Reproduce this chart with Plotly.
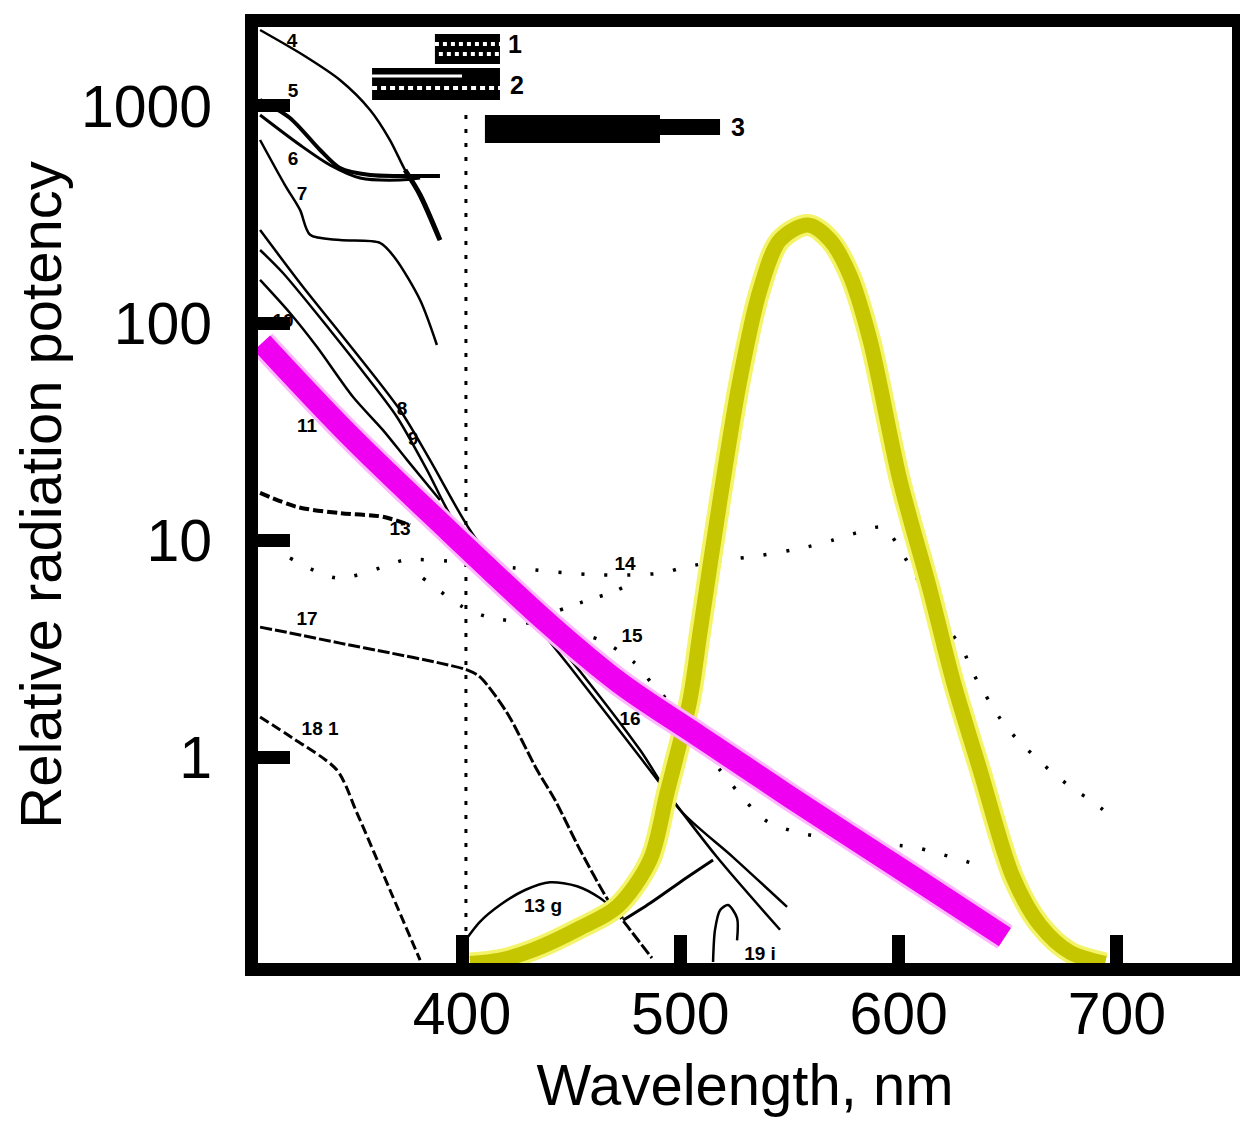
import plotly.graph_objects as go

# ---------------- axis ticks ----------------
x_tick_vals = [400, 500, 600, 700]
x_tick_text = ["400", "500", "600", "700"]
y_tick_vals = [1, 10, 100, 1000]
y_tick_text = ["1", "10", "100", "1000"]

# ---------------- coloured curves ----------------
magenta_wl = [308.4, 348.7, 394.5, 440.3, 472.4, 509.0, 550.3, 606.6, 648.7]
magenta_val = [80.9, 30.2, 10.9, 4.06, 2.19, 1.24, 0.654, 0.280, 0.148]

yellow_wl = [403.7, 417.4, 432.5, 454.1, 471.0, 486.1, 493.9, 504.4, 509.0, 518.2,
             527.3, 536.5, 545.7, 558.5, 568.6, 577.7, 586.9, 600.6, 614.4, 624.9,
             637.3, 652.4, 664.8, 678.5, 694.6]
yellow_val = [0.112, 0.116, 0.129, 0.163, 0.204, 0.335, 0.682, 1.83, 3.73, 15.3,
              54.6, 142, 241, 283, 241, 166, 83.5, 18.9, 5.88, 2.26,
              0.871, 0.280, 0.168, 0.126, 0.112]

# ---------------- black curves ----------------
c4_wl = [307.5, 327.2, 344.1, 357.9, 367.0, 373.9, 380.8, 389.9]
c4_val = [2240, 1718, 1318, 959, 697, 507, 389, 241]
c5_wl = [307.5, 321.2, 335.0, 344.1, 357.9, 371.6, 389.9]
c5_val = [1066, 881, 627, 518, 481, 476, 476]
c6_wl = [307.5, 325.8, 339.5, 353.3, 371.6, 380.8]
c6_val = [909, 661, 535, 466, 456, 466]
c7_wl = [307.5, 318.9, 325.8, 330.4, 344.1, 362.4, 369.3, 380.8, 388.5]
c7_val = [697, 432, 332, 255, 241, 234, 199.4, 127.6, 79.2]
c8_wl = [307.5, 327.2, 344.1, 371.6, 385.3, 403.7, 431.1, 455.4, 481.5, 499.9, 524.1, 548.9]
c8_val = [268, 146.5, 90.0, 39.7, 23.4, 11.1, 4.76, 2.39, 1.08, 0.570, 0.346, 0.204]
c9_wl = [307.5, 318.0, 339.5, 356.5, 370.2, 384.0, 395.9, 422.0, 449.5, 481.5, 516.8, 545.7]
c9_val = [217, 170, 92.9, 56.4, 36.9, 21.0, 12.4, 5.76, 2.60, 1.0, 0.346, 0.160]
c10_wl = [307.5, 321.2, 333.6, 350.1, 363.8, 374.8, 389.9]
c10_val = [158, 111.2, 77.5, 45.6, 32.1, 23.4, 15.3]
c12_wl = [307.5, 324.4, 344.1, 363.8, 376.2]
c12_val = [16.5, 14.2, 13.3, 12.8, 11.7]
c17_wl = [307.5, 321.2, 344.1, 367.0, 389.9, 402.3, 408.2, 420.6, 434.4, 442.6,
          454.1, 467.8, 477.0, 487.0]
c17_val = [3.97, 3.73, 3.35, 3.02, 2.71, 2.52, 2.34, 1.60, 0.871, 0.634,
           0.373, 0.212, 0.160, 0.1186]
c18_wl = [307.5, 322.6, 342.7, 351.9, 367.0, 380.8]
c18_val = [1.53, 1.22, 0.871, 0.552, 0.244, 0.116]
b13_wl = [400.0, 408.2, 417.4, 428.9, 440.3, 452.7, 463.2, 473.8]
b13_val = [0.136, 0.174, 0.208, 0.244, 0.265, 0.254, 0.224, 0.181]
l20_wl = [473.8, 486.1, 499.9, 515.0]
l20_val = [0.177, 0.212, 0.265, 0.335]
b19_wl = [515.0, 515.9, 518.2, 521.9, 526.0, 526.0]
b19_val = [0.1136, 0.160, 0.197, 0.208, 0.181, 0.143]
vline_wl = [401.8, 401.8]
vline_val = [909, 0.136]

# ---------------- dotted curves ----------------
s14_wl = [321.2, 342.7, 363.8, 373.9, 399.1, 424.3, 463.2, 491.2, 502.2, 524.1,
          535.1, 558.0, 570.0, 580.9, 592.9, 607.5, 622.6, 629.5, 634.1, 646.4,
          654.2, 670.7, 680.8, 689.1, 698.2]
s14_val = [8.26, 6.68, 7.51, 8.09, 7.92, 7.43, 6.90, 7.04, 7.51, 8.17,
           8.44, 9.29, 10.0, 10.8, 11.4, 6.90, 3.93, 3.11, 2.44, 1.51,
           1.21, 0.844, 0.705, 0.621, 0.524]
s14b_wl = [444.9, 457.7, 469.2, 480.2]
s14b_val = [4.76, 5.29, 5.76, 6.54]
s15_wl = [382.1, 400.5, 411.9, 435.7, 463.2, 479.2, 487.5, 495.3, 518.2, 538.8,
          554.8, 583.2, 606.6, 617.6, 629.0, 639.6]
s15_val = [6.68, 4.91, 4.42, 4.06, 3.46, 2.71, 2.15, 1.77, 0.871, 0.513,
           0.447, 0.406, 0.385, 0.361, 0.335, 0.311]

# ---------------- legend bars ----------------
bar1_wl = [387.6, 417.4]
bar1_val = [1832, 1832]
bar1_dots_a = [1931, 1931]
bar1_dots_b = [1737, 1737]
bar1_dots_b_wl = [389.4, 417.4]
bar2_wl = [358.8, 417.4]
bar2_val = [1262, 1262]
bar2_stripe_wl = [358.8, 400.0]
bar2_stripe_val = [1374, 1374]
bar2_dots_val = [1211, 1211]
bar3_wl = [410.5, 490.7]
bar3_val = [783, 783]
bar3_tail_wl = [490.7, 518.2]
bar3_tail_val = [800, 800]

# ---------------- curve labels ----------------
legend_num_text = ["1", "2", "3"]
legend_num_wl = [424.3, 425.2, 526.4]
legend_num_val = [1871, 1211, 775]
label_text = ["4", "5", "6", "7", "8", "9", "10", "11", "13",
              "14", "15", "16", "17", "18 1", "13 g", "19 i"]
label_wl = [322.1, 322.6, 322.6, 326.7, 372.5, 377.6, 318.0,
            329.0, 371.6, 474.7, 477.9, 477.0, 329.0, 335.0, 437.1, 536.5]
label_val = [1973, 1161, 564, 389, 39.7, 28.9, 101.1,
             33.2, 11.1, 7.67, 3.57, 1.48, 4.28, 1.33, 0.204, 0.122]

fig = go.Figure()


def black(xs, ys, w=2.5, dash="solid", shape="spline", color="black"):
    fig.add_trace(go.Scatter(x=xs, y=ys, mode="lines",
                             line=dict(color=color, width=w, dash=dash, shape=shape,
                                       smoothing=0.8),
                             showlegend=False, hoverinfo="skip"))


# black curves
black(c4_wl, c4_val, 2.5)
black(c4_wl[5:], c4_val[5:], 5)
black(c5_wl, c5_val, 4)
black(c6_wl, c6_val, 3)
black(c7_wl, c7_val, 2.5)
black(c8_wl, c8_val, 2.5)
black(c9_wl, c9_val, 2.5)
black(c10_wl, c10_val, 2.5)
black(c12_wl, c12_val, 4, dash="10px,4px")
black(c17_wl, c17_val, 3, dash="12px,3px")
black(c18_wl, c18_val, 3, dash="10px,4px")
black(b13_wl, b13_val, 2.5)
black(l20_wl, l20_val, 3)
black(b19_wl, b19_val, 2.5)
black(vline_wl, vline_val, 3, dash="4px,10px", shape="linear")
black(s14_wl, s14_val, 3.5, dash="3px,20px")
black(s14b_wl, s14b_val, 3.5, dash="3px,18px")
black(s15_wl, s15_val, 3.5, dash="3px,20px")

# legend bars
black(bar1_wl, bar1_val, 30, shape="linear")
black(bar1_wl, bar1_dots_a, 4, dash="4px,4px", shape="linear", color="white")
black(bar1_dots_b_wl, bar1_dots_b, 4, dash="4px,4px", shape="linear", color="white")
black(bar2_wl, bar2_val, 32, shape="linear")
black(bar2_stripe_wl, bar2_stripe_val, 3, shape="linear", color="white")
black(bar2_wl, bar2_dots_val, 4, dash="5px,4px", shape="linear", color="white")
black(bar3_wl, bar3_val, 28, shape="linear")
black(bar3_tail_wl, bar3_tail_val, 16, shape="linear")

# yellow curve with glow
fig.add_trace(go.Scatter(x=yellow_wl, y=yellow_val, mode="lines",
                         line=dict(color="#f4f46a", width=22, shape="spline", smoothing=0.9),
                         showlegend=False, hoverinfo="skip"))
fig.add_trace(go.Scatter(x=yellow_wl, y=yellow_val, mode="lines",
                         line=dict(color="#c6c600", width=15, shape="spline", smoothing=0.9),
                         showlegend=False, hoverinfo="skip"))

# magenta curve with glow
fig.add_trace(go.Scatter(x=magenta_wl, y=magenta_val, mode="lines",
                         line=dict(color="#ffb8ff", width=28, shape="spline", smoothing=1.0),
                         showlegend=False, hoverinfo="skip"))
fig.add_trace(go.Scatter(x=magenta_wl, y=magenta_val, mode="lines",
                         line=dict(color="#f000f0", width=22, shape="spline", smoothing=1.0),
                         showlegend=False, hoverinfo="skip"))

# labels
fig.add_trace(go.Scatter(x=label_wl, y=label_val, mode="text",
                         text=["<b>%s</b>" % t for t in label_text],
                         textposition="middle center",
                         textfont=dict(family="Liberation Sans, Arial, sans-serif",
                                       size=19, color="black"),
                         showlegend=False, hoverinfo="skip"))
fig.add_trace(go.Scatter(x=legend_num_wl, y=legend_num_val, mode="text",
                         text=["<b>%s</b>" % t for t in legend_num_text],
                         textposition="middle center",
                         textfont=dict(family="Liberation Sans, Arial, sans-serif",
                                       size=25, color="black"),
                         showlegend=False, hoverinfo="skip"))

axis_font = dict(family="Liberation Sans, Arial, sans-serif", size=59, color="black")
title_font = dict(family="Liberation Sans, Arial, sans-serif", size=58, color="black")

fig.update_layout(
    width=1232, height=1109,
    margin=dict(l=250, r=8, t=19, b=154, pad=0, autoexpand=False),
    paper_bgcolor="white", plot_bgcolor="white",
    showlegend=False,
    xaxis=dict(range=[306.55, 752.72], tickvals=x_tick_vals, ticktext=x_tick_text,
               ticks="inside", ticklen=28, tickwidth=13, tickcolor="black",
               showline=True, linewidth=13, linecolor="black", mirror=True,
               showgrid=False, zeroline=False, tickfont=axis_font,
               title=dict(text="Wavelength, nm", font=title_font, standoff=26)),
    yaxis=dict(type="log", range=[-0.949, 3.364], tickvals=y_tick_vals, ticktext=y_tick_text,
               ticks="inside", ticklen=32, tickwidth=13, tickcolor="black",
               showline=True, linewidth=13, linecolor="black", mirror=True,
               showgrid=False, zeroline=False, tickfont=axis_font,
               ticklabelstandoff=21,
               title=dict(text="Relative radiation potency", font=title_font, standoff=12)),
)
try:
    fig.update_xaxes(ticklabelstandoff=-13)
except Exception:
    fig.update_xaxes(ticklabelstandoff=0)

fig.write_html("out.html")
